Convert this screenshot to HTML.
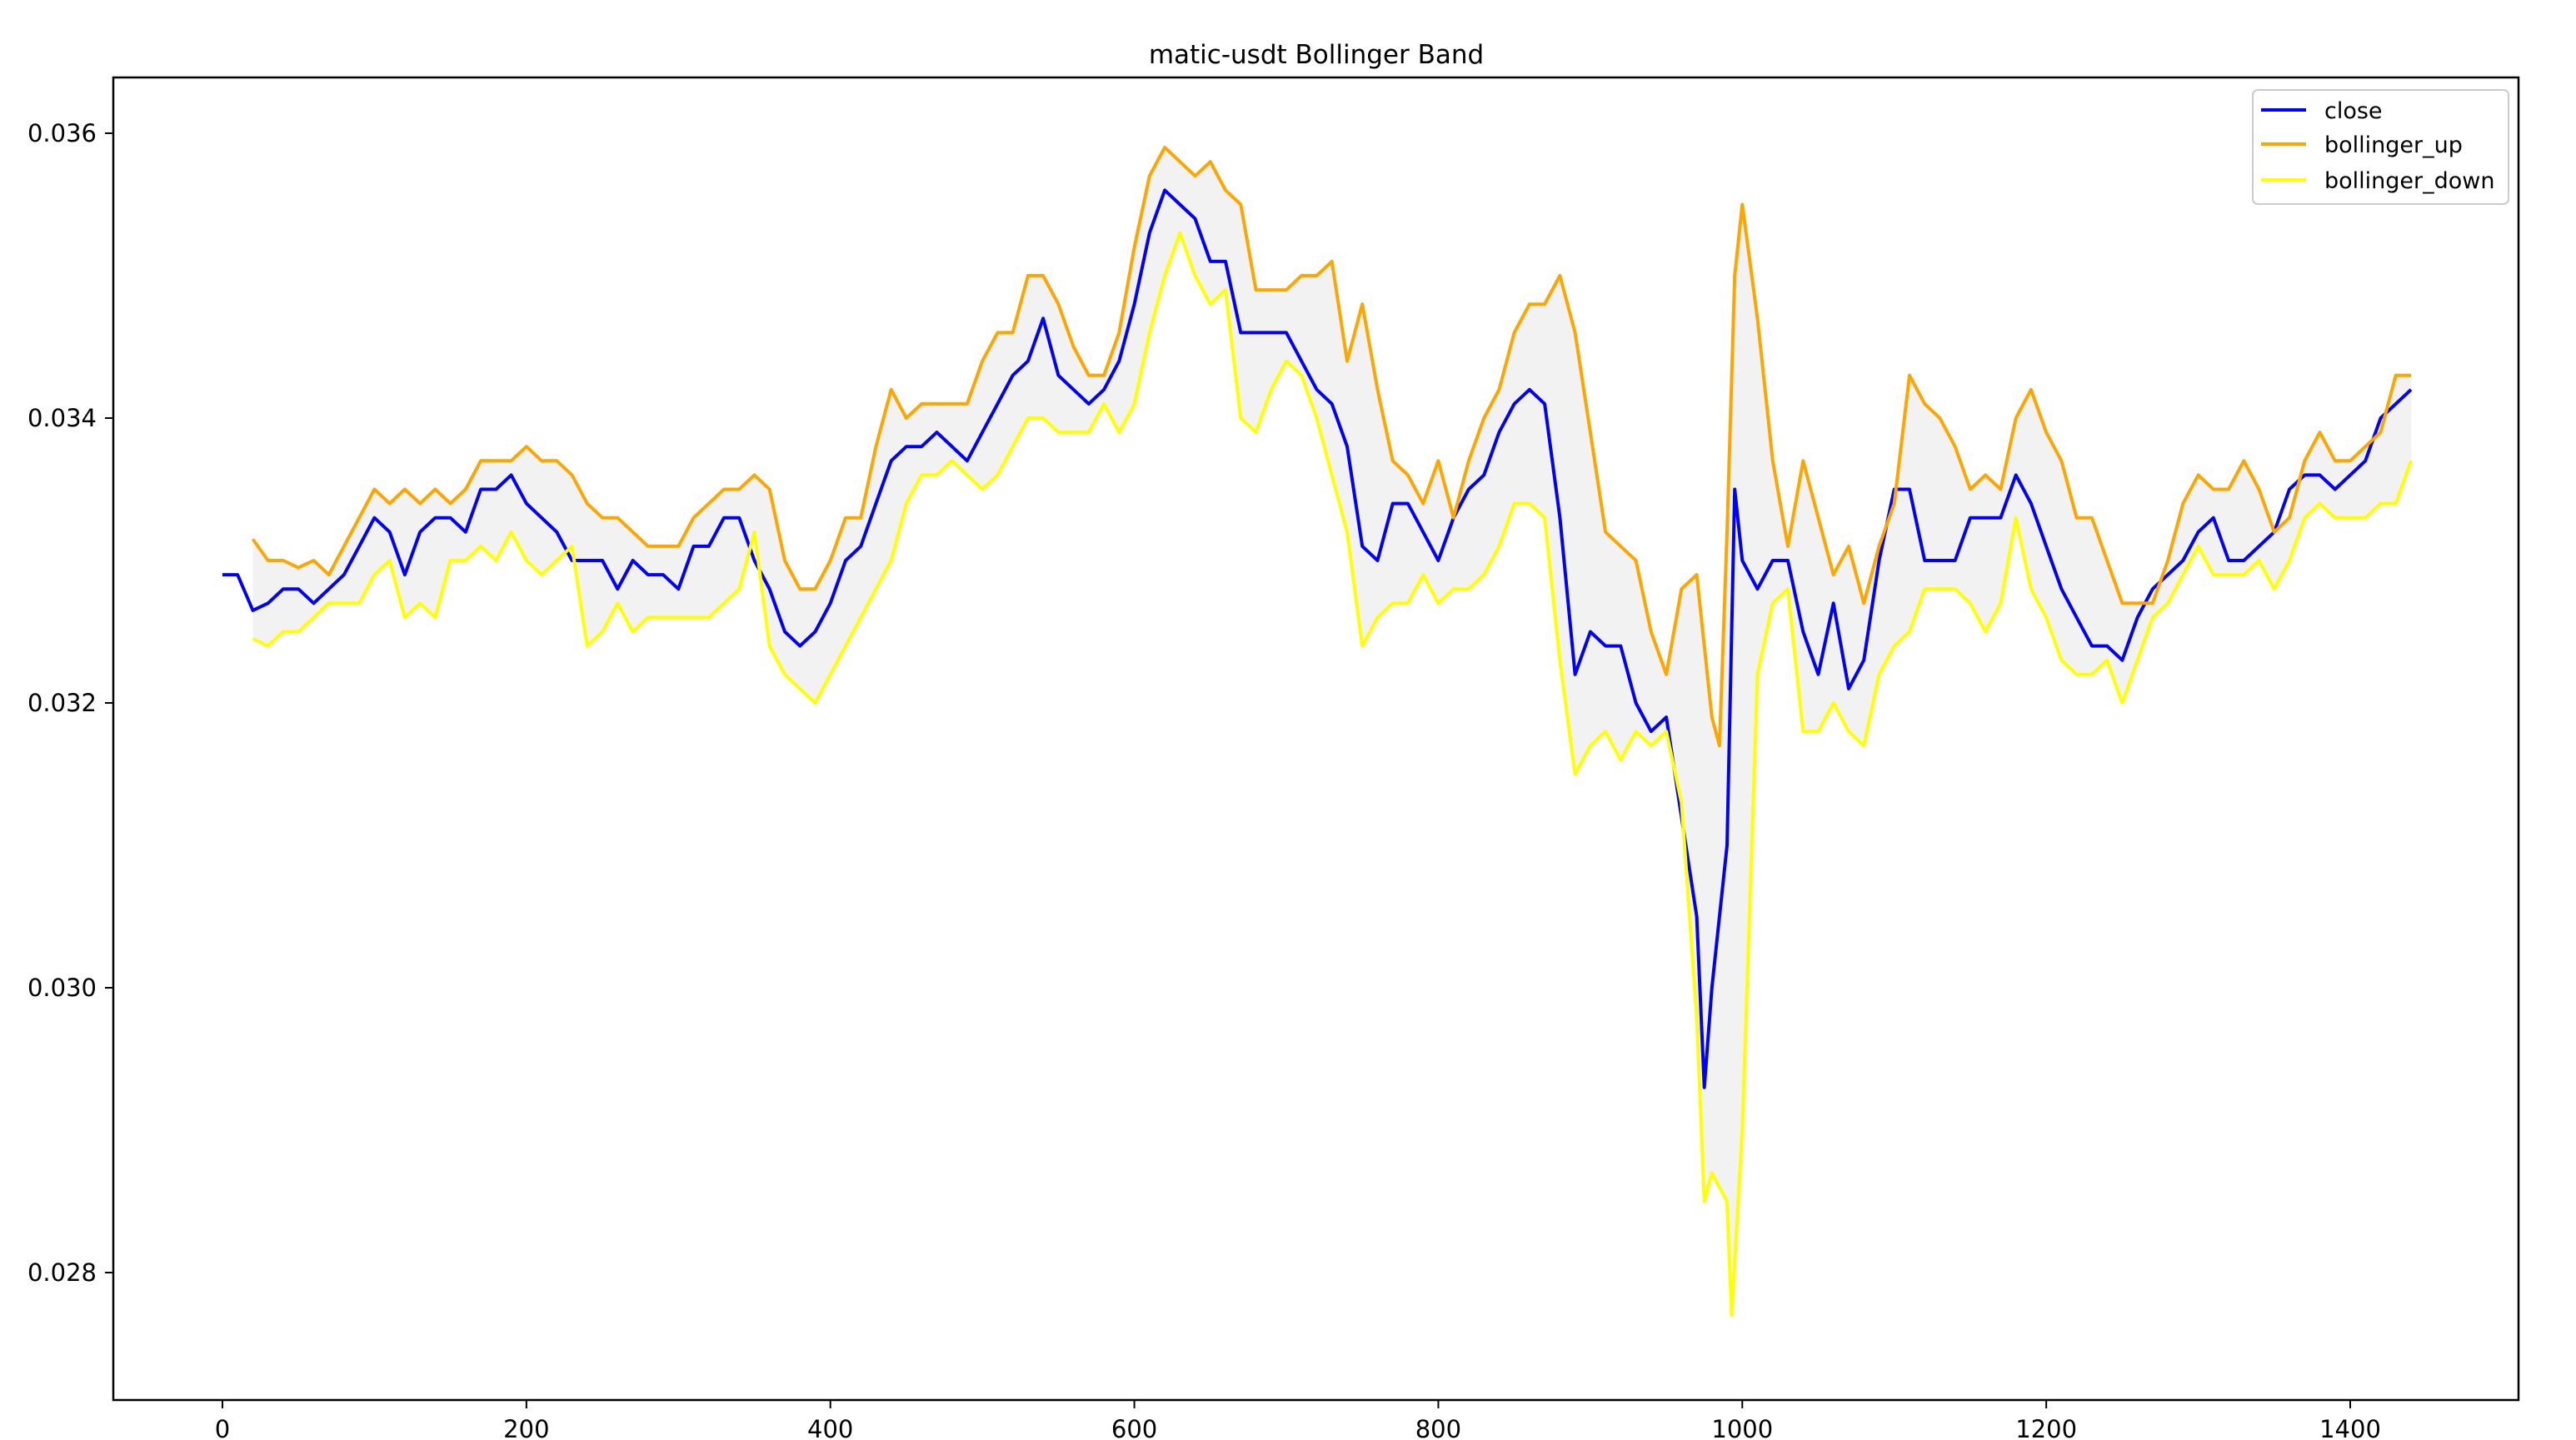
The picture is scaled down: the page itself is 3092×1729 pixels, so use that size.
<!DOCTYPE html>
<html><head><meta charset="utf-8"><style>
html,body{margin:0;padding:0;background:#fff;}
svg{display:block;font-family:"DejaVu Sans","Liberation Sans",sans-serif;}
</style></head><body>
<svg id="chart" width="3092" height="1729" viewBox="0 0 3092 1729">
<rect x="0" y="0" width="3092" height="1729" fill="#fff"/>
<text x="1580" y="76" text-anchor="middle" font-size="31" fill="#000">matic-usdt Bollinger Band</text>
<g id="plot"></g>
<rect x="136" y="93" width="2887" height="1588" fill="none" stroke="#000" stroke-width="2.5"/>
<g id="xticks"></g>
<g id="yticks"></g>
<g>
<rect x="2704" y="108" width="307" height="137" rx="6" fill="#fff" fill-opacity="0.8" stroke="#ccc" stroke-width="2"/>
<line x1="2714" y1="132" x2="2768" y2="132" stroke="#0000ff" stroke-width="4"/>
<text x="2790" y="142" font-size="27">close</text>
<line x1="2714" y1="173" x2="2768" y2="173" stroke="#ffa500" stroke-width="4"/>
<text x="2790" y="183" font-size="27">bollinger_up</text>
<line x1="2714" y1="216" x2="2768" y2="216" stroke="#ffff00" stroke-width="4"/>
<text x="2790" y="226" font-size="27">bollinger_down</text>
</g>
</svg>
<script>
const closeX=[0,10,20,30,40,50,60,70,80,90,100,110,120,130,140,150,160,170,180,190,200,210,220,230,240,250,260,270,280,290,300,310,320,330,340,350,360,370,380,390,400,410,420,430,440,450,460,470,480,490,500,510,520,530,540,550,560,570,580,590,600,610,620,630,640,650,660,670,680,690,700,710,720,730,740,750,760,770,780,790,800,810,820,830,840,850,860,870,880,890,900,910,920,930,940,950,960,970,975,980,990,995,1000,1010,1020,1030,1040,1050,1060,1070,1080,1090,1100,1110,1120,1130,1140,1150,1160,1170,1180,1190,1200,1210,1220,1230,1240,1250,1260,1270,1280,1290,1300,1310,1320,1330,1340,1350,1360,1370,1380,1390,1400,1410,1420,1430,1440];
const closeV=[0.0329,0.0329,0.03265,0.0327,0.0328,0.0328,0.0327,0.0328,0.0329,0.0331,0.0333,0.0332,0.0329,0.0332,0.0333,0.0333,0.0332,0.0335,0.0335,0.0336,0.0334,0.0333,0.0332,0.0330,0.0330,0.0330,0.0328,0.0330,0.0329,0.0329,0.0328,0.0331,0.0331,0.0333,0.0333,0.0330,0.0328,0.0325,0.0324,0.0325,0.0327,0.0330,0.0331,0.0334,0.0337,0.0338,0.0338,0.0339,0.0338,0.0337,0.0339,0.0341,0.0343,0.0344,0.0347,0.0343,0.0342,0.0341,0.0342,0.0344,0.0348,0.0353,0.0356,0.0355,0.0354,0.0351,0.0351,0.0346,0.0346,0.0346,0.0346,0.0344,0.0342,0.0341,0.0338,0.0331,0.0330,0.0334,0.0334,0.0332,0.0330,0.0333,0.0335,0.0336,0.0339,0.0341,0.0342,0.0341,0.0333,0.0322,0.0325,0.0324,0.0324,0.0320,0.0318,0.0319,0.0312,0.0305,0.0293,0.0300,0.0310,0.0335,0.0330,0.0328,0.0330,0.0330,0.0325,0.0322,0.0327,0.0321,0.0323,0.0330,0.0335,0.0335,0.0330,0.0330,0.0330,0.0333,0.0333,0.0333,0.0336,0.0334,0.0331,0.0328,0.0326,0.0324,0.0324,0.0323,0.0326,0.0328,0.0329,0.0330,0.0332,0.0333,0.0330,0.0330,0.0331,0.0332,0.0335,0.0336,0.0336,0.0335,0.0336,0.0337,0.0340,0.0341,0.0342];
const upX=[20,30,40,50,60,70,80,90,100,110,120,130,140,150,160,170,180,190,200,210,220,230,240,250,260,270,280,290,300,310,320,330,340,350,360,370,380,390,400,410,420,430,440,450,460,470,480,490,500,510,520,530,540,550,560,570,580,590,600,610,620,630,640,650,660,670,680,690,700,710,720,730,740,750,760,770,780,790,800,810,820,830,840,850,860,870,880,890,900,910,920,930,940,950,960,970,980,985,990,995,1000,1010,1020,1030,1040,1050,1060,1070,1080,1090,1100,1110,1120,1130,1140,1150,1160,1170,1180,1190,1200,1210,1220,1230,1240,1250,1260,1270,1280,1290,1300,1310,1320,1330,1340,1350,1360,1370,1380,1390,1400,1410,1420,1430,1440];
const upV=[0.03315,0.0330,0.0330,0.03295,0.0330,0.0329,0.0331,0.0333,0.0335,0.0334,0.0335,0.0334,0.0335,0.0334,0.0335,0.0337,0.0337,0.0337,0.0338,0.0337,0.0337,0.0336,0.0334,0.0333,0.0333,0.0332,0.0331,0.0331,0.0331,0.0333,0.0334,0.0335,0.0335,0.0336,0.0335,0.0330,0.0328,0.0328,0.0330,0.0333,0.0333,0.0338,0.0342,0.0340,0.0341,0.0341,0.0341,0.0341,0.0344,0.0346,0.0346,0.0350,0.0350,0.0348,0.0345,0.0343,0.0343,0.0346,0.0352,0.0357,0.0359,0.0358,0.0357,0.0358,0.0356,0.0355,0.0349,0.0349,0.0349,0.0350,0.0350,0.0351,0.0344,0.0348,0.0342,0.0337,0.0336,0.0334,0.0337,0.0333,0.0337,0.0340,0.0342,0.0346,0.0348,0.0348,0.0350,0.0346,0.0339,0.0332,0.0331,0.0330,0.0325,0.0322,0.0328,0.0329,0.0319,0.0317,0.0332,0.0350,0.0355,0.0347,0.0337,0.0331,0.0337,0.0333,0.0329,0.0331,0.0327,0.0331,0.0334,0.0343,0.0341,0.0340,0.0338,0.0335,0.0336,0.0335,0.0340,0.0342,0.0339,0.0337,0.0333,0.0333,0.0330,0.0327,0.0327,0.0327,0.0330,0.0334,0.0336,0.0335,0.0335,0.0337,0.0335,0.0332,0.0333,0.0337,0.0339,0.0337,0.0337,0.0338,0.0339,0.0343,0.0343];
const downX=[20,30,40,50,60,70,80,90,100,110,120,130,140,150,160,170,180,190,200,210,220,230,240,250,260,270,280,290,300,310,320,330,340,350,360,370,380,390,400,410,420,430,440,450,460,470,480,490,500,510,520,530,540,550,560,570,580,590,600,610,620,630,640,650,660,670,680,690,700,710,720,730,740,750,760,770,780,790,800,810,820,830,840,850,860,870,880,890,900,910,920,930,940,950,960,970,975,980,990,993,1000,1010,1020,1030,1040,1050,1060,1070,1080,1090,1100,1110,1120,1130,1140,1150,1160,1170,1180,1190,1200,1210,1220,1230,1240,1250,1260,1270,1280,1290,1300,1310,1320,1330,1340,1350,1360,1370,1380,1390,1400,1410,1420,1430,1440];
const downV=[0.03245,0.0324,0.0325,0.0325,0.0326,0.0327,0.0327,0.0327,0.0329,0.0330,0.0326,0.0327,0.0326,0.0330,0.0330,0.0331,0.0330,0.0332,0.0330,0.0329,0.0330,0.0331,0.0324,0.0325,0.0327,0.0325,0.0326,0.0326,0.0326,0.0326,0.0326,0.0327,0.0328,0.0332,0.0324,0.0322,0.0321,0.0320,0.0322,0.0324,0.0326,0.0328,0.0330,0.0334,0.0336,0.0336,0.0337,0.0336,0.0335,0.0336,0.0338,0.0340,0.0340,0.0339,0.0339,0.0339,0.0341,0.0339,0.0341,0.0346,0.0350,0.0353,0.0350,0.0348,0.0349,0.0340,0.0339,0.0342,0.0344,0.0343,0.0340,0.0336,0.0332,0.0324,0.0326,0.0327,0.0327,0.0329,0.0327,0.0328,0.0328,0.0329,0.0331,0.0334,0.0334,0.0333,0.0323,0.0315,0.0317,0.0318,0.0316,0.0318,0.0317,0.0318,0.0313,0.0298,0.0285,0.0287,0.0285,0.0277,0.0290,0.0322,0.0327,0.0328,0.0318,0.0318,0.0320,0.0318,0.0317,0.0322,0.0324,0.0325,0.0328,0.0328,0.0328,0.0327,0.0325,0.0327,0.0333,0.0328,0.0326,0.0323,0.0322,0.0322,0.0323,0.0320,0.0323,0.0326,0.0327,0.0329,0.0331,0.0329,0.0329,0.0329,0.0330,0.0328,0.0330,0.0333,0.0334,0.0333,0.0333,0.0333,0.0334,0.0334,0.0337];
const xTicks=[0,200,400,600,800,1000,1200,1400];
const yTicks=[0.028,0.030,0.032,0.034,0.036];
const yTickLabels=["0.028","0.030","0.032","0.034","0.036"];

const NS="http://www.w3.org/2000/svg";
function sx(v){return 267+v*(2821-267)/1400;}
function sy(v){return 1528-(v-0.028)*(1528-160)/0.008;}
function mk(tag,attrs,parent){const e=document.createElementNS(NS,tag);for(const k in attrs)e.setAttribute(k,attrs[k]);parent.appendChild(e);return e;}
const plot=document.getElementById('plot');
function ptsStr(xs,vs){return xs.map((x,i)=>sx(x).toFixed(1)+','+sy(vs[i]).toFixed(1)).join(' ');}
// fill between
const fillPts=ptsStr(upX,upV)+' '+downX.map((x,i)=>[x,downV[i]]).reverse().map(p=>sx(p[0]).toFixed(1)+','+sy(p[1]).toFixed(1)).join(' ');
const band=mk('polygon',{points:fillPts,fill:'#f2f2f2',stroke:'none'},plot);


const lc=mk('polyline',{points:ptsStr(closeX,closeV),fill:'none',stroke:'#0000ff','stroke-width':4,'stroke-linejoin':'round'},plot);


const lu=mk('polyline',{points:ptsStr(upX,upV),fill:'none',stroke:'#ffa500','stroke-width':4,'stroke-linejoin':'round'},plot);


const ld=mk('polyline',{points:ptsStr(downX,downV),fill:'none',stroke:'#ffff00','stroke-width':4,'stroke-linejoin':'round'},plot);


const xg=document.getElementById('xticks');
xTicks.forEach(t=>{
  const l=mk('line',{x1:sx(t),x2:sx(t),y1:1681,y2:1691,stroke:'#000','stroke-width':2},xg);
  
  
  const tx=mk('text',{x:sx(t),y:1726,'text-anchor':'middle','font-size':29},xg);
  tx.textContent=String(t);
  
  
});
const yg=document.getElementById('yticks');
yTicks.forEach((t,i)=>{
  const l=mk('line',{x1:126,x2:136,y1:sy(t),y2:sy(t),stroke:'#000','stroke-width':2},yg);
  
  
  const tx=mk('text',{x:116,y:sy(t)+10,'text-anchor':'end','font-size':29},yg);
  tx.textContent=yTickLabels[i];
  
  
});
</script>
</body></html>
